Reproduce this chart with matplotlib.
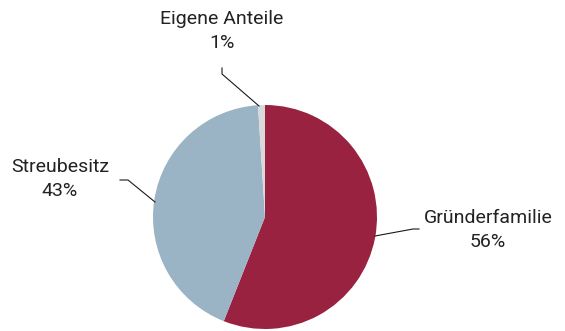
import matplotlib
matplotlib.use("Agg")
import matplotlib.pyplot as plt

labels = ["Gründerfamilie", "Streubesitz", "Eigene Anteile"]
values = [56, 43, 1]
colors = ["#98223F", "#9AB3C5", "#D9D9D9"]

W, H = 565, 331
fig = plt.figure(figsize=(W / 100, H / 100), dpi=100)
ax = fig.add_axes([0, 0, 1, 1])

cx, cy, r = 265, H - 217, 112
ax.pie(values, colors=colors, startangle=90, counterclock=False,
       center=(cx, cy), radius=r, frame=True,
       wedgeprops=dict(linewidth=0))
ax.set_xlim(0, W)
ax.set_ylim(0, H)
ax.set_aspect("equal")
ax.axis("off")

font = dict(family="Roboto", fontweight="normal", fontsize=14, color="#222222",
            ha="center", va="center", linespacing=1.4)

def Y(py):
    return H - py

label_pos = [(488, 230), (60, 179), (222, 31)]
leaders = [
    [(375, 236), (413, 229), (419, 229)],
    [(120, 180), (128, 180), (155, 202)],
    [(222, 68), (222, 74), (259, 106)],
]
for lab, v, (px, py), pts in zip(labels, values, label_pos, leaders):
    ax.text(px, Y(py), f"{lab}\n{v}%", **font)
    xs = [p[0] for p in pts]
    ys = [Y(p[1]) for p in pts]
    ax.plot(xs, ys, color="#1a1a1a", linewidth=0.8)

fig.savefig("out.png", dpi=100)
